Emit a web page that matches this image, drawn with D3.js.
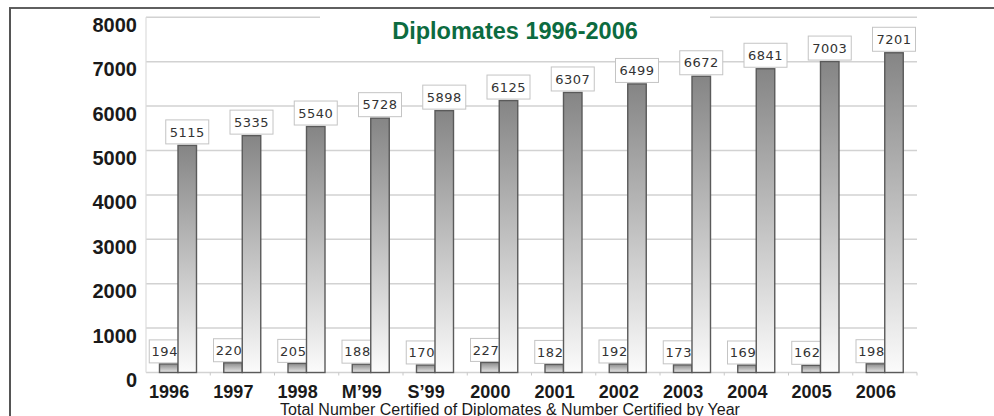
<!DOCTYPE html>
<html>
<head>
<meta charset="utf-8">
<script src="https://cdn.jsdelivr.net/npm/d3@7"></script>
<style>
  body { margin: 0; background: #fff; }
  svg { display: block; }
</style>
</head>
<body>
<div id="chart"></div>
<script>
var years = ["1996", "1997", "1998", "M\u201999", "S\u201999", "2000", "2001", "2002", "2003", "2004", "2005", "2006"];
var certified = [194, 220, 205, 188, 170, 227, 182, 192, 173, 169, 162, 198];
var totals = [5115, 5335, 5540, 5728, 5898, 6125, 6307, 6499, 6672, 6841, 7003, 7201];
var yTicks = [0, 1000, 2000, 3000, 4000, 5000, 6000, 7000, 8000];

var width = 994, height = 416;
var plotLeft = 146, plotRight = 917, plotTop = 17.3, plotBottom = 372.5;

var svg = d3.select("#chart").append("svg")
    .attr("width", width)
    .attr("height", height);

var defs = svg.append("defs");
var grad = defs.append("linearGradient")
    .attr("id", "barGrad")
    .attr("x1", 0).attr("y1", 0).attr("x2", 0).attr("y2", 1);
grad.append("stop").attr("offset", "0%").attr("stop-color", "#858585");
grad.append("stop").attr("offset", "100%").attr("stop-color", "#fbfbfb");

var smallGrad = defs.append("linearGradient")
    .attr("id", "smallGrad")
    .attr("x1", 0).attr("y1", 0).attr("x2", 0).attr("y2", 1);
smallGrad.append("stop").attr("offset", "0%").attr("stop-color", "#8a8a8a");
smallGrad.append("stop").attr("offset", "100%").attr("stop-color", "#e8e8e8");

var x = d3.scaleBand().domain(years).range([plotLeft, plotRight]).padding(0);
var inner = d3.scaleBand().domain(["new", "total"]).range([13.5, 50.5]).padding(0);
var y = d3.scaleLinear().domain([0, 8000]).range([plotBottom, plotTop]);

// frame
svg.append("line").attr("x1", 9).attr("x2", width).attr("y1", 8).attr("y2", 8)
    .attr("stroke", "#2a2a2a").attr("stroke-width", 1.6);
svg.append("line").attr("x1", 10).attr("x2", 10).attr("y1", 8).attr("y2", height)
    .attr("stroke", "#555").attr("stroke-width", 2);

// grid
svg.append("g").selectAll("line")
    .data(yTicks)
    .enter().append("line")
    .attr("x1", plotLeft).attr("x2", plotRight)
    .attr("y1", function (d) { return y(d); })
    .attr("y2", function (d) { return y(d); })
    .attr("stroke", "#d2d2d2")
    .attr("stroke-width", 1.5);

svg.append("line").attr("x1", plotLeft).attr("x2", plotLeft).attr("y1", plotTop).attr("y2", plotBottom)
    .attr("stroke", "#dcdcdc").attr("stroke-width", 1.2);

// ticks under baseline
svg.append("g").selectAll("line")
    .data(years)
    .enter().append("line")
    .attr("x1", function (d) { return x(d) + x.bandwidth(); })
    .attr("x2", function (d) { return x(d) + x.bandwidth(); })
    .attr("y1", plotBottom).attr("y2", plotBottom + 3)
    .attr("stroke", "#c8c8c8").attr("stroke-width", 1);

// y labels
svg.append("g").selectAll("text")
    .data(yTicks)
    .enter().append("text")
    .attr("x", 137)
    .attr("y", function (d) { return y(d) + 7.5; })
    .attr("dy", "0.35em")
    .attr("text-anchor", "end")
    .style("font-family", "Liberation Sans, Arial, sans-serif")
    .style("font-weight", "bold")
    .style("font-size", "20px")
    .style("fill", "#1a1a1a")
    .text(function (d) { return d; });

// title (white background breaks the top gridline)
svg.append("rect").attr("x", 320).attr("y", 11).attr("width", 390).attr("height", 38)
    .attr("fill", "#fff");
svg.append("text")
    .attr("x", 515).attr("y", 38.5)
    .attr("text-anchor", "middle")
    .style("font-family", "Liberation Sans, Arial, sans-serif")
    .style("font-weight", "bold")
    .style("font-size", "23.5px")
    .style("fill", "#0c6b40")
    .text("Diplomates 1996-2006");

var groups = svg.append("g").selectAll("g")
    .data(years)
    .enter().append("g")
    .attr("transform", function (d) { return "translate(" + x(d) + ",0)"; });

// small bars
groups.append("rect")
    .attr("x", inner("new"))
    .attr("width", inner.bandwidth())
    .attr("y", function (d, i) { return y(certified[i]); })
    .attr("height", function (d, i) { return plotBottom - y(certified[i]); })
    .attr("fill", "url(#smallGrad)")
    .attr("stroke", "#5a5a5a")
    .attr("stroke-width", 1.4);

// small labels (drawn before big bars so they tuck behind)
var smallLab = groups.append("g")
    .attr("transform", function (d, i) {
        return "translate(" + (inner("new") + inner.bandwidth() / 2 - 4) + "," + (y(certified[i]) - 1) + ")";
    });
smallLab.append("rect")
    .attr("x", -15.5).attr("y", -23).attr("width", 31).attr("height", 23)
    .attr("fill", "#fff").attr("stroke", "#c4c4c4").attr("stroke-width", 1);
smallLab.append("text")
    .attr("x", 0).attr("y", -11.5).attr("dy", "0.36em")
    .attr("text-anchor", "middle")
    .style("font-family", "DejaVu Sans, Verdana, sans-serif")
    .style("font-size", "13px")
    .style("letter-spacing", "0.5px")
    .style("fill", "#333")
    .text(function (d, i) { return certified[i]; });

// big bars
groups.append("rect")
    .attr("x", inner("total"))
    .attr("width", inner.bandwidth())
    .attr("y", function (d, i) { return y(totals[i]); })
    .attr("height", function (d, i) { return plotBottom - y(totals[i]); })
    .attr("fill", "url(#barGrad)")
    .attr("stroke", "#5a5a5a")
    .attr("stroke-width", 1.4);

var bigLab = groups.append("g")
    .attr("transform", function (d, i) {
        return "translate(" + (inner("total") + inner.bandwidth() / 2) + "," + (y(totals[i]) - 1.5) + ")";
    });
bigLab.append("rect")
    .attr("x", -21.5).attr("y", -24).attr("width", 43).attr("height", 24)
    .attr("fill", "#fff").attr("stroke", "#c4c4c4").attr("stroke-width", 1);
bigLab.append("text")
    .attr("x", 0).attr("y", -12).attr("dy", "0.36em")
    .attr("text-anchor", "middle")
    .style("font-family", "DejaVu Sans, Verdana, sans-serif")
    .style("font-size", "13px")
    .style("letter-spacing", "0.5px")
    .style("fill", "#333")
    .text(function (d, i) { return totals[i]; });

// x labels
svg.append("g").selectAll("text")
    .data(years)
    .enter().append("text")
    .attr("x", function (d) { return x(d) + x.bandwidth() / 2 - 9; })
    .attr("y", 398)
    .attr("text-anchor", "middle")
    .style("font-family", "Liberation Sans, Arial, sans-serif")
    .style("font-weight", "bold")
    .style("font-size", "18px")
    .style("fill", "#1a1a1a")
    .text(function (d) { return d; });

svg.append("text")
    .attr("x", 510).attr("y", 414.5)
    .attr("text-anchor", "middle")
    .style("font-family", "Liberation Sans, Arial, sans-serif")
    .style("font-size", "16px")
    .style("fill", "#1a1a1a")
    .text("Total Number Certified of Diplomates & Number Certified by Year");
</script>
</body>
</html>
